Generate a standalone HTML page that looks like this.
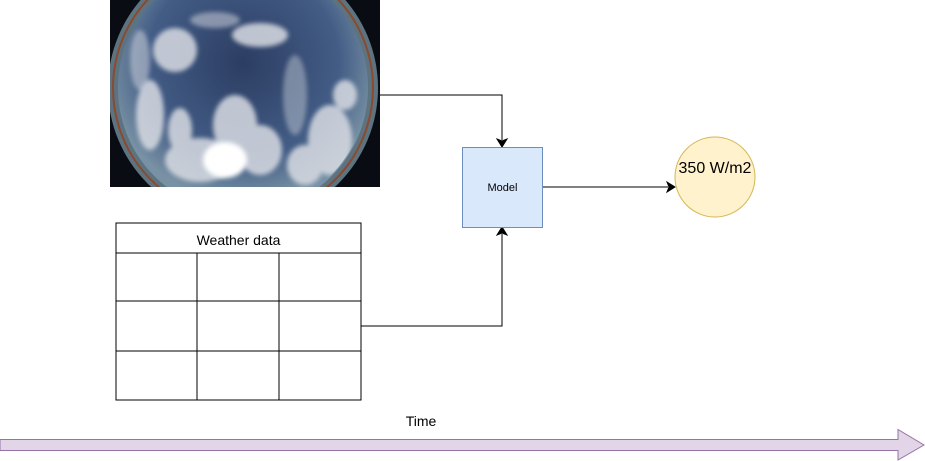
<!DOCTYPE html>
<html><head><meta charset="utf-8"><style>body{margin:0;background:#fff}svg{display:block}</style></head><body>
<svg width="925" height="461" viewBox="0 0 925 461" xmlns="http://www.w3.org/2000/svg" font-family="Liberation Sans, Arial, sans-serif">
<defs>
<clipPath id="c"><rect x="110" y="0" width="270" height="187"/></clipPath>
<clipPath id="d"><circle cx="243" cy="88" r="124"/></clipPath>
<radialGradient id="sky" cx="0.5" cy="0.4" r="0.55">
<stop offset="0" stop-color="#2c3d62"/><stop offset="0.7" stop-color="#435d86"/><stop offset="1" stop-color="#7891a4"/></radialGradient>
<filter id="b"><feGaussianBlur stdDeviation="2.5"/></filter>
</defs>
<g clip-path="url(#c)">
<rect x="110" y="0" width="270" height="187" fill="#0a0c14"/>
<circle cx="243" cy="88" r="135" fill="#5d7480"/>
<circle cx="243" cy="88" r="130" fill="none" stroke="#8a4a30" stroke-width="2"/>
<circle cx="243" cy="88" r="125" fill="url(#sky)"/>
<g clip-path="url(#d)">
<g fill="#d8dbe2" filter="url(#b)" opacity="0.85">
<ellipse cx="235" cy="125" rx="22" ry="30"/>
<ellipse cx="200" cy="160" rx="35" ry="22"/>
<ellipse cx="260" cy="150" rx="22" ry="25"/>
<ellipse cx="330" cy="140" rx="22" ry="35"/>
<ellipse cx="305" cy="165" rx="18" ry="20"/>
<ellipse cx="260" cy="35" rx="28" ry="12"/>
<ellipse cx="175" cy="50" rx="22" ry="22"/>
<ellipse cx="150" cy="115" rx="14" ry="35"/>
<ellipse cx="180" cy="130" rx="12" ry="22"/>
<ellipse cx="345" cy="95" rx="12" ry="15"/>
<ellipse cx="295" cy="95" rx="12" ry="40" opacity="0.5"/>
<ellipse cx="215" cy="20" rx="25" ry="8" opacity="0.6"/>
<ellipse cx="140" cy="60" rx="10" ry="30" opacity="0.6"/>
</g>
<ellipse cx="225" cy="160" rx="22" ry="18" fill="#fff" filter="url(#b)"/>
</g>
</g>
<g fill="none" stroke="#000" stroke-width="1">
<rect x="116" y="223" width="245" height="177"/>
<line x1="116" y1="253" x2="361" y2="253"/>
<line x1="116" y1="301" x2="361" y2="301"/>
<line x1="116" y1="351" x2="361" y2="351"/>
<line x1="197" y1="253" x2="197" y2="400"/>
<line x1="279" y1="253" x2="279" y2="400"/>
<polyline points="380,95 502,95 502,140"/>
<polyline points="361,326 502,326 502,234"/>
<line x1="542" y1="187" x2="668" y2="187"/>
</g>
<polygon points="497,139 502,147 507,139 502,141" fill="#000" stroke="#000"/>
<polygon points="497,235 502,227 507,235 502,233" fill="#000" stroke="#000"/>
<polygon points="667,182 675,187 667,192 669,187" fill="#000" stroke="#000"/>
<text x="238.5" y="245" font-size="14" text-anchor="middle">Weather data</text>
<rect x="462.5" y="147.5" width="80" height="80" fill="#dae8fc" stroke="#6c8ebf"/>
<text x="502.5" y="191" font-size="11" text-anchor="middle">Model</text>
<circle cx="715" cy="177" r="40" fill="#fff2cc" stroke="#d6b656"/>
<text x="715" y="173" font-size="16" text-anchor="middle">350 W/m2</text>
<text x="421" y="426" font-size="14" text-anchor="middle">Time</text>
<polygon points="0,439.5 898,439.5 898,429.5 924,445 898,460 898,450.5 0,450.5" fill="#e1d5e7" stroke="#9673a6"/>
</svg>
</body></html>
